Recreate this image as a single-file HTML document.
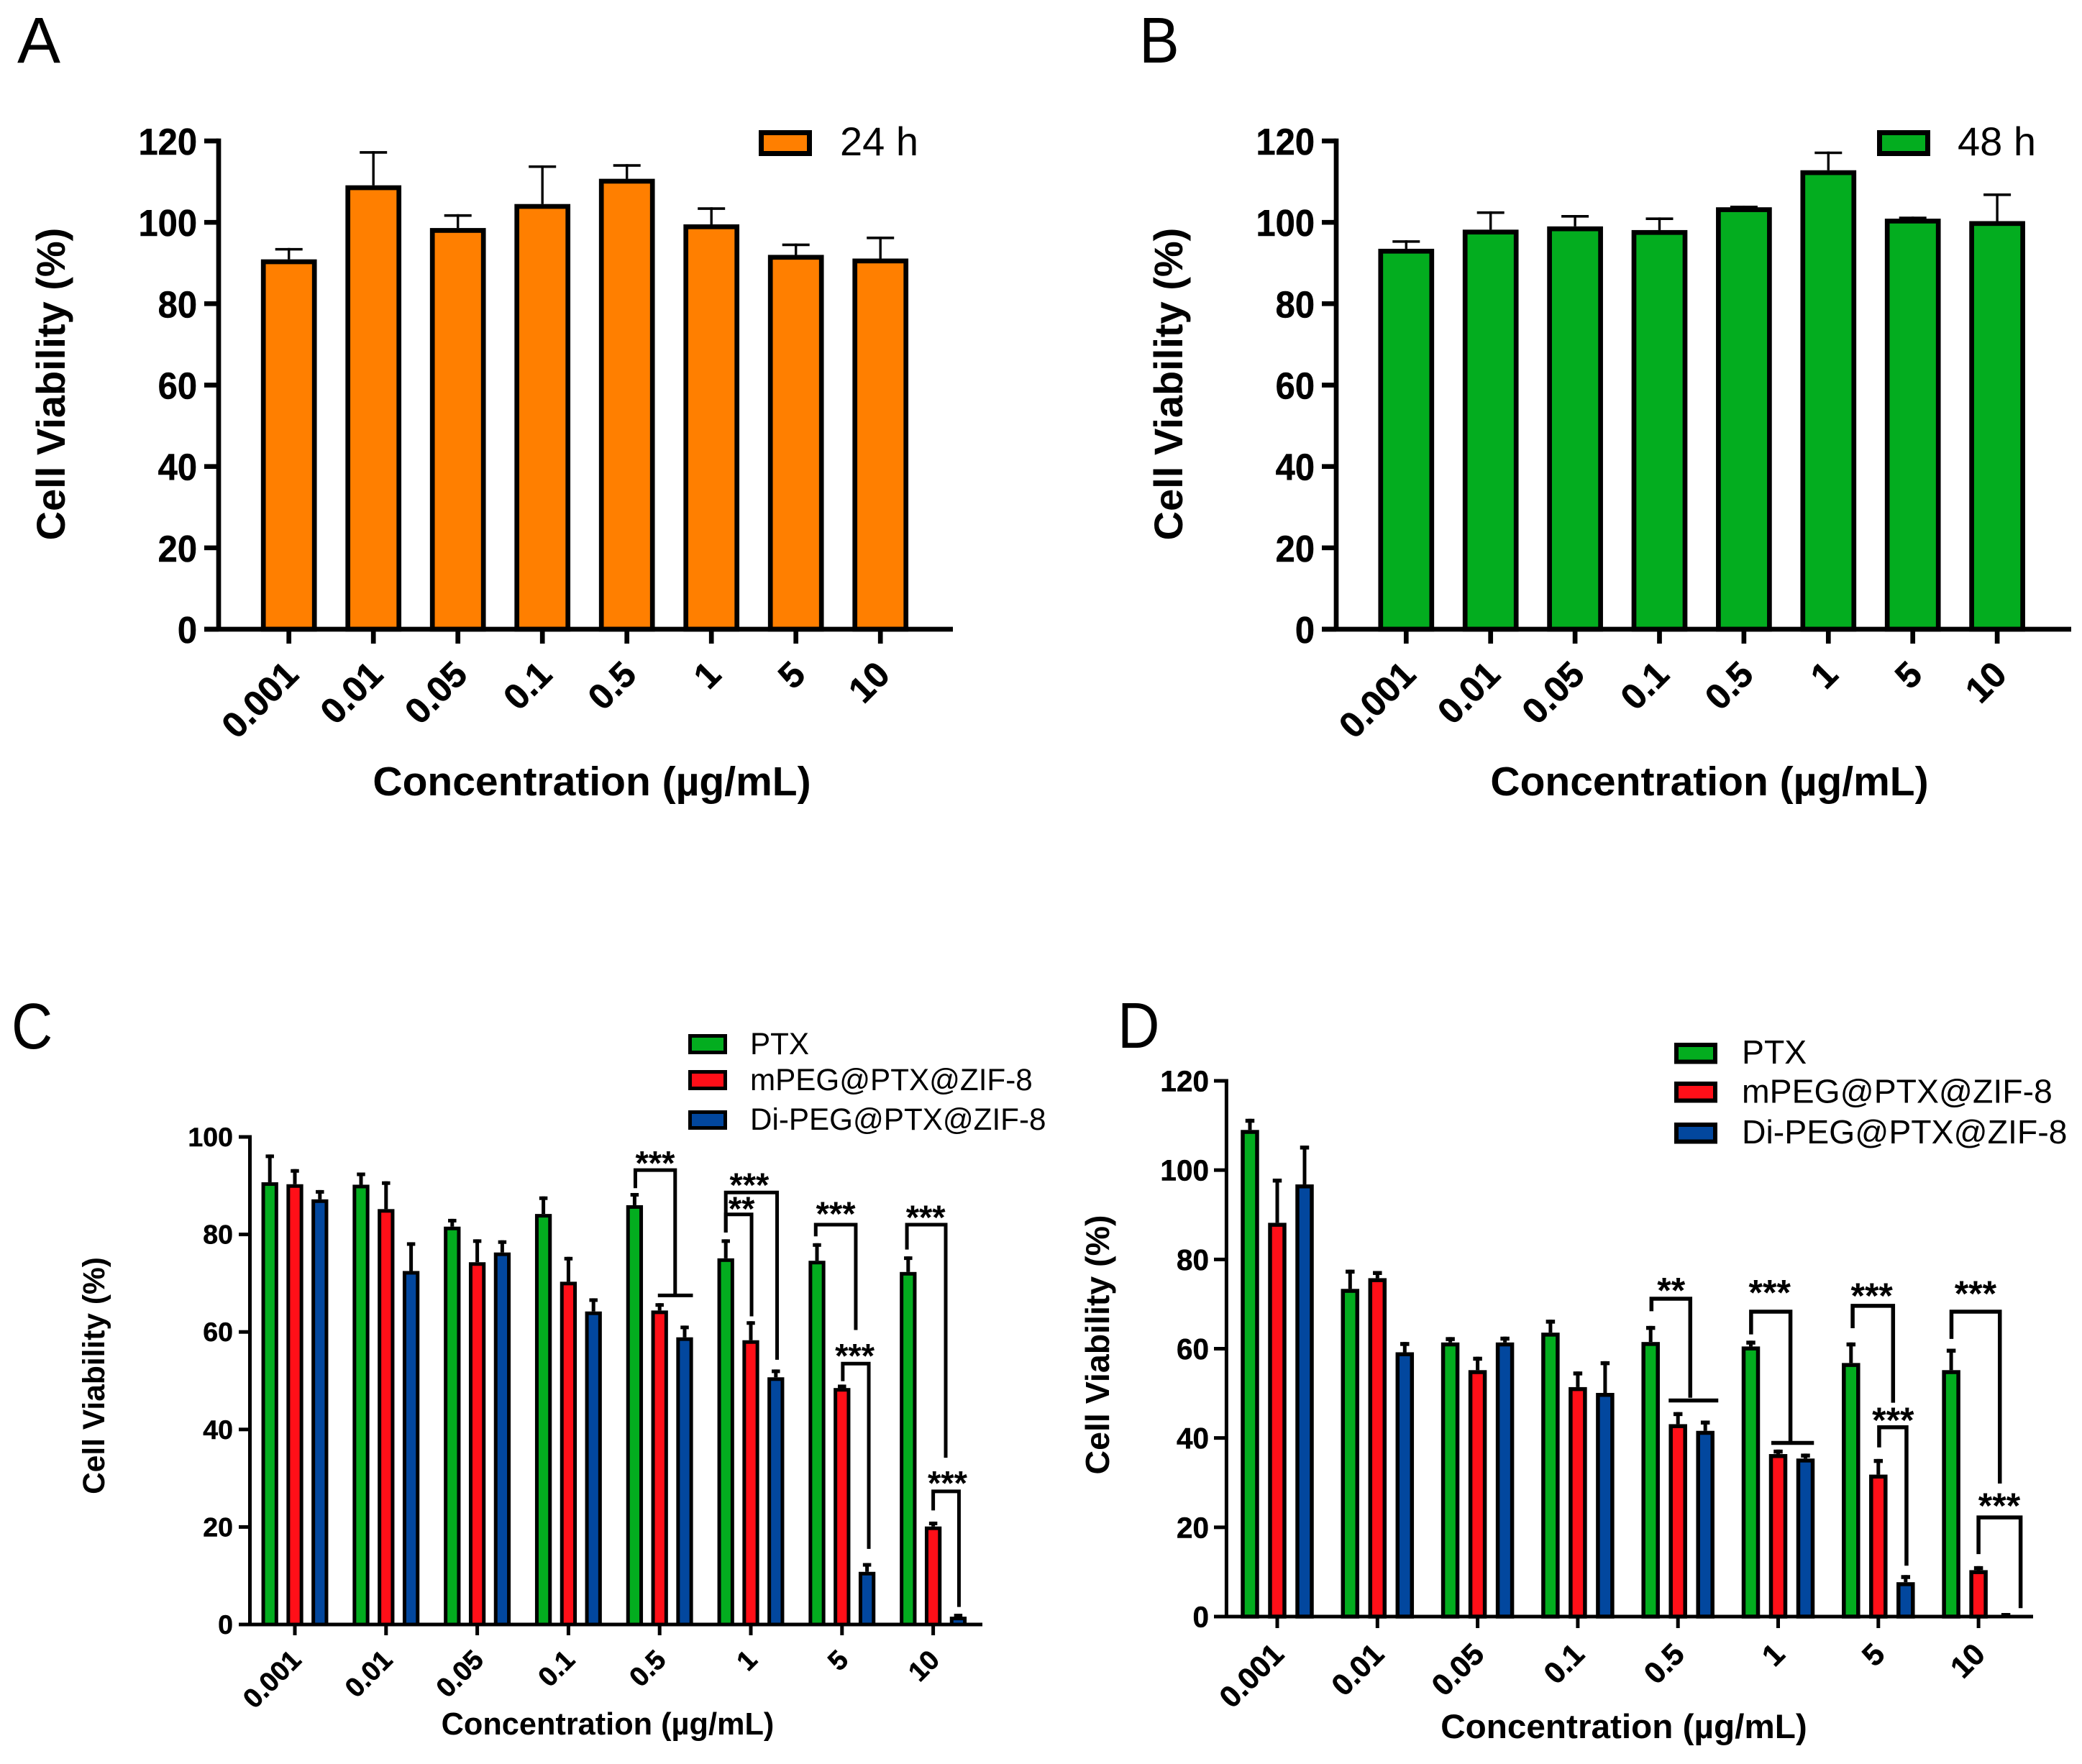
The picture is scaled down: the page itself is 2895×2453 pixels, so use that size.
<!DOCTYPE html>
<html lang="en">
<head>
<meta charset="utf-8">
<title>Cell viability panels</title>
<style>
html,body{margin:0;padding:0;background:#fff;}
svg{display:block;font-family:"Liberation Sans",sans-serif;}
</style>
</head>
<body>
<svg id="figure" xmlns="http://www.w3.org/2000/svg" width="2895" height="2453" viewBox="0 0 2895 2453">
<rect x="0" y="0" width="2895" height="2453" fill="#ffffff"/>
</svg>
<script>
const categories = ['0.001','0.01','0.05','0.1','0.5','1','5','10'];
const ticksA = [0,20,40,60,80,100,120];
const ticksC = [0,20,40,60,80,100];
const seriesNames = ['PTX','mPEG@PTX@ZIF-8','Di-PEG@PTX@ZIF-8'];

const viability24h = [90.9,109.1,98.6,104.5,110.7,99.5,92,91.1];
const error24h = [93.7,117.5,102,114,114.3,103.7,94.8,96.5];
const viability48h = [93.5,98.2,99,98.1,103.7,112.8,100.9,100.3];
const error48h = [95.6,102.7,101.8,101.2,104.1,117.4,101.4,107.1];

const cPtx = [90.7,90.2,81.6,84.2,86,75.1,74.6,72.3];
const cPtxErr = [96.4,92.7,83.2,87.8,88.5,79,78.2,75.5];
const cMpeg = [90.3,85.2,74.3,70.3,64.4,58.3,48.5,20.1];
const cMpegErr = [93.4,90.9,79,75.4,65.9,62.2,49.2,21.1];
const cDi = [87.2,72.5,76.3,64.2,58.9,50.7,10.8,1.6];
const cDiErr = [89.1,78.4,78.8,66.9,61.3,52.3,12.6,2.2];

const dPtx = [109,73.4,61.4,63.6,61.5,60.5,56.8,55.2];
const dPtxErr = [111.5,77.7,62.6,66.5,65.1,61.8,61.4,60];
const dMpeg = [88.2,75.8,55.2,51.4,43.1,36.4,31.8,10.4];
const dMpegErr = [98.1,77.4,58.2,54.9,45.8,37.4,35.3,11.3];
const dDi = [96.8,59.2,61.4,50.1,41.6,35.4,7.7,0];
const dDiErr = [105.5,61.5,62.7,57.2,43.9,36.5,9.3,0.8];

/* significance brackets, in data units: category, left series, right series,
   left-foot value, top value, right-foot value, stars, star series position, star value */
const cBrackets = [
 [4,-0.97,0.62,89.5,93.2,67.5,'***',-0.18,95.4],
 [5,-1,1.05,80.4,88.6,54.3,'***',-0.06,90.9],
 [5,-1,0.03,80.4,84.1,63.2,'**',-0.37,86],
 [6,-1.05,0.55,79.6,82,60.4,'***',-0.25,85],
 [6,0.03,1.07,49.9,53.5,15.5,'***',0.51,55.9],
 [7,-1.05,0.5,76.9,82,34.2,'***',-0.3,84.3],
 [7,0,1.03,23.4,27.3,3.6,'***',0.57,29.8]
];
const cRules = [[4,-0.07,1.33,67.5]];
const dBrackets = [
 [4,-0.97,0.45,68.4,71.2,49,'**',-0.25,74],
 [5,-0.99,0.45,63.2,68.3,39,'***',-0.31,73.5],
 [6,-0.94,0.54,64.6,69.6,47.9,'***',-0.24,72.8],
 [6,0.03,1.03,37.9,42.4,11.4,'***',0.54,44.9],
 [7,-0.99,0.78,62.2,68.3,29.8,'***',-0.11,73.3],
 [7,0,1.54,14,22.2,1.9,'***',0.76,25.8]
];
const dRules = [[4,-0.34,1.475,48.4],[5,-0.25,1.31,38.9]];

const GREEN = '#03ad1f', RED = '#ff0f18', BLUE = '#02479e', ORANGE = '#ff7f00';
const svg = document.getElementById('figure');
const NS = 'http://www.w3.org/2000/svg';

function make(tag, attrs, parent) {
  const el = document.createElementNS(NS, tag);
  for (const k in attrs) el.setAttribute(k, attrs[k]);
  
  parent.appendChild(el);
  return el;
}
function makeText(str, attrs, parent) {
  const el = make('text', attrs, parent);
  el.textContent = str;
  return el;
}

function drawPanel(p) {
  const g = make('g', {}, svg);
  

  const letter = makeText(p.letter, {transform:'translate(' + p.letterX + ' ' + p.letterY + ') scale(' + p.letterSx + ' 1)', 'font-size':90, fill:'#000'}, g);
  

  const yScale = v => p.y0 - (v / p.yMax) * (p.y0 - p.yTop);
  const xScale = (cat, pos) => p.firstTick + cat * p.step + pos * p.seriesGap;

  p.series.forEach((s, si) => {
    const pos = p.series.length === 1 ? 0 : si - 1;
    s.values.forEach((v, c) => {
      const cx = xScale(c, pos);
      const whisker = make('line', {x1:cx, x2:cx, y1:yScale(v), y2:yScale(s.errors[c]), stroke:'#000', 'stroke-width':p.errW}, g);
      
      const cap = make('line', {x1:cx - p.capW/2, x2:cx + p.capW/2, y1:yScale(s.errors[c]) + p.capT/2, y2:yScale(s.errors[c]) + p.capT/2, stroke:'#000', 'stroke-width':p.capT}, g);
      
      const top = yScale(v) + p.barStroke/2;
      const bar = make('rect', {x:cx - p.barW/2 + p.barStroke/2, y:top, width:p.barW - p.barStroke, height:Math.max(0, p.y0 - top), fill:s.color, stroke:'#000', 'stroke-width':p.barStroke}, g);
      
    });
  });

  const yAxis = make('line', {x1:p.x0, x2:p.x0, y1:p.yTop - p.axisW/2, y2:p.y0, stroke:'#000', 'stroke-width':p.axisW}, g);
  
  const xAxis = make('line', {x1:p.tickLeft, x2:p.xEnd, y1:p.y0, y2:p.y0, stroke:'#000', 'stroke-width':p.axisW}, g);
  

  p.ticks.forEach(t => {
    const yy = yScale(t);
    const tick = make('line', {x1:p.tickLeft, x2:p.x0, y1:yy, y2:yy, stroke:'#000', 'stroke-width':p.axisW}, g);
    
    const lab = makeText(String(t), {transform:'translate(' + p.yLabelX + ' ' + (yy + p.yLabelDy) + ') scale(' + p.yLabelSx + ' 1)', 'text-anchor':'end', 'font-size':p.yLabelSize, 'font-weight':'bold', fill:'#000', stroke:'#000', 'stroke-width':0.5}, g);
    
  });

  categories.forEach((c, i) => {
    const xx = xScale(i, 0);
    const tick = make('line', {x1:xx, x2:xx, y1:p.y0, y2:p.xTickEnd, stroke:'#000', 'stroke-width':p.xTickW}, g);
    
    const lab = makeText(c, {transform:'translate(' + (xx + p.xLabelDx) + ' ' + (p.y0 + p.xLabelDy) + ') rotate(-45)', 'text-anchor':'end', 'font-size':p.xLabelSize, 'font-weight':'bold', fill:'#000', stroke:'#000', 'stroke-width':0.6}, g);
    
  });

  const yTitle = makeText('Cell Viability (%)', {transform:'translate(' + p.yTitleX + ' ' + p.yTitleY + ') rotate(-90)', 'text-anchor':'middle', 'font-size':p.yTitleSize, 'font-weight':'bold', fill:'#000'}, g);
  
  const xTitle = makeText('Concentration (\u00b5g/mL)', {x:p.xTitleX, y:p.xTitleY, 'text-anchor':'middle', 'font-size':p.xTitleSize, 'font-weight':'bold', fill:'#000'}, g);
  

  (p.brackets || []).forEach(b => {
    const lx = xScale(b[0], b[1]), rx = xScale(b[0], b[2]);
    const path = make('polyline', {points:[lx, yScale(b[3]), lx, yScale(b[4]), rx, yScale(b[4]), rx, yScale(b[5])].join(' '), fill:'none', stroke:'#000', 'stroke-width':p.bracketW}, g);
    
    const stars = makeText(b[6], {x:xScale(b[0], b[7]), y:yScale(b[8]) + p.starSize * 0.56 - 5, 'text-anchor':'middle', 'font-size':p.starSize, 'font-weight':'bold', fill:'#000'}, g);
    
  });
  (p.rules || []).forEach(r => {
    const rule = make('line', {x1:xScale(r[0], r[1]), x2:xScale(r[0], r[2]), y1:yScale(r[3]), y2:yScale(r[3]), stroke:'#000', 'stroke-width':p.bracketW}, g);
    
  });

  p.legend.forEach(l => {
    const swatch = make('rect', {x:l.x + p.legendStroke/2, y:l.y + p.legendStroke/2, width:l.w - p.legendStroke, height:l.h - p.legendStroke, fill:l.color, stroke:'#000', 'stroke-width':p.legendStroke}, g);
    
    const txt = makeText(l.label, {x:l.tx, y:l.ty, 'font-size':l.size, fill:'#000'}, g);
    
  });
}

drawPanel({letter:'A', letterX:24, letterY:87, letterSx:1, x0:304, y0:875, yTop:196, yMax:120, xEnd:1325, tickLeft:284, firstTick:401.7, step:117.5, seriesGap:0,
  barW:77.7, barStroke:6.7, errW:3.4, capW:38, capT:3.6, axisW:6.7, xTickW:6.7, xTickEnd:895, ticks:ticksA,
  yLabelX:274, yLabelDy:19, yLabelSx:0.94, yLabelSize:52, xLabelDx:16, xLabelDy:66, xLabelSize:50,
  yTitleX:90, yTitleY:534, yTitleSize:56, xTitleX:823, xTitleY:1106, xTitleSize:57,
  series:[{values:viability24h, errors:error24h, color:ORANGE}],
  legendStroke:7, legend:[{x:1055, y:181, w:74, h:36, color:ORANGE, label:'24 h', tx:1168, ty:216, size:56}]});

drawPanel({letter:'B', letterX:1584, letterY:87, letterSx:0.93, x0:1858, y0:875, yTop:196, yMax:120, xEnd:2880, tickLeft:1838, firstTick:1955.3, step:117.4, seriesGap:0,
  barW:77.7, barStroke:6.7, errW:3.4, capW:38, capT:3.6, axisW:6.7, xTickW:6.7, xTickEnd:895, ticks:ticksA,
  yLabelX:1828, yLabelDy:19, yLabelSx:0.94, yLabelSize:52, xLabelDx:16, xLabelDy:66, xLabelSize:50,
  yTitleX:1644, yTitleY:534, yTitleSize:56, xTitleX:2377, xTitleY:1106, xTitleSize:57,
  series:[{values:viability48h, errors:error48h, color:GREEN}],
  legendStroke:7, legend:[{x:2610, y:181, w:74, h:36, color:GREEN, label:'48 h', tx:2722, ty:216, size:56}]});

drawPanel({letter:'C', letterX:16, letterY:1458, letterSx:0.88, x0:347.5, y0:2259, yTop:1581, yMax:100, xEnd:1366, tickLeft:332, firstTick:410, step:126.8, seriesGap:34.8,
  barW:23.3, barStroke:5, errW:5, capW:11.5, capT:5, axisW:5, xTickW:5, xTickEnd:2274, ticks:ticksC,
  yLabelX:324, yLabelDy:13, yLabelSx:1, yLabelSize:37.5, xLabelDx:11, xLabelDy:51.5, xLabelSize:38,
  yTitleX:145, yTitleY:1913, yTitleSize:42.5, xTitleX:845, xTitleY:2412, xTitleSize:43.3,
  series:[{values:cPtx, errors:cPtxErr, color:GREEN},{values:cMpeg, errors:cMpegErr, color:RED},{values:cDi, errors:cDiErr, color:BLUE}],
  brackets:cBrackets, rules:cRules, bracketW:5, starSize:47,
  legendStroke:5, legend:[
    {x:957, y:1438, w:54, h:28, color:GREEN, label:seriesNames[0], tx:1043, ty:1466, size:42.2},
    {x:957, y:1488, w:54, h:28, color:RED, label:seriesNames[1], tx:1043, ty:1516, size:42.2},
    {x:957, y:1544, w:54, h:27, color:BLUE, label:seriesNames[2], tx:1043, ty:1571, size:42.2}]});

drawPanel({letter:'D', letterX:1554, letterY:1457, letterSx:0.9, x0:1705.4, y0:2248, yTop:1503, yMax:120, xEnd:2827, tickLeft:1688, firstTick:1776, step:139.3, seriesGap:38,
  barW:25.5, barStroke:5.5, errW:5, capW:12.5, capT:5.5, axisW:5, xTickW:5, xTickEnd:2264, ticks:ticksA,
  yLabelX:1681, yLabelDy:14.5, yLabelSx:1, yLabelSize:40.5, xLabelDx:11.5, xLabelDy:55, xLabelSize:42,
  yTitleX:1542, yTitleY:1870, yTitleSize:46.5, xTitleX:2258, xTitleY:2417, xTitleSize:47.7,
  series:[{values:dPtx, errors:dPtxErr, color:GREEN},{values:dMpeg, errors:dMpegErr, color:RED},{values:dDi, errors:dDiErr, color:BLUE}],
  brackets:dBrackets, rules:dRules, bracketW:5.5, starSize:50,
  legendStroke:6, legend:[
    {x:2328, y:1450, w:60, h:29.5, color:GREEN, label:seriesNames[0], tx:2422, ty:1479, size:46.4},
    {x:2328, y:1504, w:60, h:29.5, color:RED, label:seriesNames[1], tx:2422, ty:1533.5, size:46.4},
    {x:2328, y:1561, w:60, h:29.5, color:BLUE, label:seriesNames[2], tx:2422, ty:1590, size:46.4}]});
</script>
</body>
</html>
